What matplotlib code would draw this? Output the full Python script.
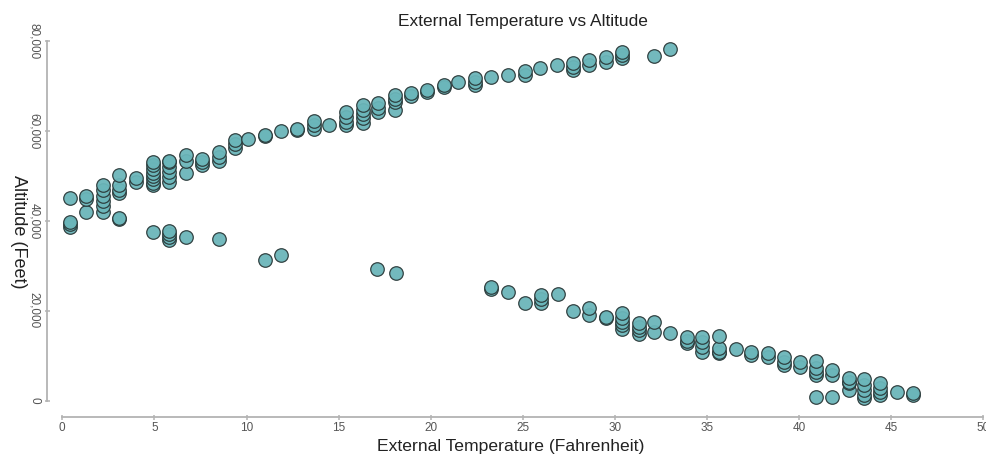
import matplotlib
matplotlib.use("Agg")
import matplotlib.pyplot as plt
from matplotlib.ticker import FuncFormatter

# upper branch (temperature F, altitude in thousands of feet)
upper_temp = [0.4,
              1.3, 1.3,
              2.2, 2.2, 2.2, 2.2, 2.2, 2.2,
              3.1, 3.1, 3.1, 3.1,
              4.0, 4.0,
              4.9, 4.9, 4.9, 4.9, 4.9, 4.9, 4.9, 4.9,
              5.8, 5.8, 5.8, 5.8, 5.8, 5.8,
              6.7, 6.7, 6.7,
              7.6, 7.6, 7.6,
              8.5, 8.5, 8.5,
              9.4, 9.4, 9.4,
              10.1,
              11.0, 11.0,
              11.9,
              12.75, 12.75,
              13.65, 13.65, 13.65,
              14.5,
              15.4, 15.4, 15.4, 15.4,
              16.3, 16.3, 16.3, 16.3, 16.3,
              17.15, 17.15, 17.15,
              18.05, 18.05, 18.05, 18.05,
              18.95, 18.95,
              19.8, 19.8,
              20.7, 20.7,
              21.5,
              22.4, 22.4, 22.4,
              23.3,
              24.2,
              25.1, 25.1,
              25.95,
              26.85,
              27.7, 27.7, 27.7,
              28.6, 28.6,
              29.5, 29.5,
              30.4, 30.4, 30.4,
              32.1,
              33.0]
upper_alt = [45.1,
             44.9, 45.4,
             42.0, 43.2, 44.3, 45.4, 46.8, 47.9,
             46.1, 46.8, 47.9, 50.2,
             48.6, 49.6,
             47.9, 48.5, 49.2, 49.9, 50.7, 51.5, 52.3, 53.1,
             48.6, 49.7, 50.8, 51.9, 53.0, 53.4,
             50.7, 53.4, 54.6,
             52.3, 53.1, 53.8,
             53.4, 54.2, 55.3,
             56.1, 57.0, 57.9,
             58.3,
             58.8, 59.0,
             60.0,
             60.2, 60.5,
             60.5, 61.2, 62.1,
             61.4,
             61.2, 62.0, 63.1, 64.3,
             61.7, 62.9, 63.8, 64.6, 65.8,
             64.2, 65.2, 66.2,
             64.7, 66.4, 67.2, 68.0,
             67.7, 68.5,
             68.6, 69.0,
             69.7, 70.1,
             70.8,
             70.1, 70.8, 71.7,
             72.0,
             72.5,
             72.5, 73.4,
             74.0,
             74.6,
             73.5, 74.2, 75.2,
             74.6, 75.8,
             75.3, 76.4,
             76.3, 76.8, 77.5,
             76.6,
             78.3]

# lower branch
lower_temp = [0.4, 0.4, 0.4,
              1.3,
              3.1, 3.1,
              4.9,
              5.8, 5.8, 5.8, 5.8,
              6.7,
              8.5,
              11.0,
              11.9,
              17.1,
              18.1,
              23.3, 23.3,
              24.2,
              25.1,
              26.0, 26.0, 26.0,
              26.9,
              27.75,
              28.6, 28.6,
              29.5, 29.5,
              30.4, 30.4, 30.4, 30.4, 30.4,
              31.3, 31.3, 31.3, 31.3,
              32.1, 32.1,
              33.0,
              33.9, 33.9, 33.9,
              34.75, 34.75, 34.75, 34.75,
              35.65, 35.65, 35.65, 35.65,
              36.55,
              37.4, 37.4,
              38.3, 38.3,
              39.2, 39.2, 39.2,
              40.05, 40.05,
              40.9, 40.9, 40.9, 40.9, 40.9,
              41.8, 41.8, 41.8,
              42.7, 42.7, 42.7, 42.7,
              43.5, 43.5, 43.5, 43.5, 43.5,
              44.4, 44.4, 44.4, 44.4,
              45.3,
              46.2, 46.2]
lower_alt = [38.6, 39.2, 39.7,
             41.9,
             40.3, 40.7,
             37.5,
             35.7, 36.3, 37.0, 37.7,
             36.4,
             35.9,
             31.2,
             32.3,
             29.2,
             28.4,
             24.9, 25.2,
             24.2,
             21.7,
             21.6, 22.5, 23.4,
             23.6,
             20.0,
             19.0, 20.5,
             18.3, 18.6,
             16.0, 16.8, 17.5, 18.3, 19.4,
             14.9, 15.7, 16.4, 17.2,
             15.3, 17.5,
             15.1,
             12.8, 13.3, 14.2,
             10.7, 12.0, 13.1, 14.2,
             10.5, 10.8, 11.6, 14.3,
             11.4,
             10.1, 10.8,
             9.7, 10.5,
             7.9, 8.6, 9.7,
             7.5, 8.6,
             0.8, 5.7, 6.4, 7.2, 8.8,
             0.8, 5.7, 6.8,
             2.3, 3.8, 4.2, 4.9,
             0.5, 1.2, 2.3, 3.4, 4.7,
             1.2, 2.0, 2.7, 3.8,
             2.0,
             1.2, 1.7]

x_ticks = [0, 5, 10, 15, 20, 25, 30, 35, 40, 45, 50]
y_ticks = [0, 20000, 40000, 60000, 80000]

plt.rcParams['font.family'] = ['Liberation Sans', 'DejaVu Sans']

W, H = 987, 458
fig = plt.figure(figsize=(W / 100, H / 100), dpi=100)
# axes box in pixels: x 62..983, y 41..400 (from top)
ax = fig.add_axes([62.3 / W, 1 - 400.5 / H, (983.3 - 62.3) / W, (400.5 - 41) / H])

# higher points drawn last so they sit on top of each stack
pts = sorted(zip(upper_temp + lower_temp, upper_alt + lower_alt), key=lambda p: p[1])
xs = [p[0] for p in pts]
ys = [p[1] * 1000 for p in pts]
ax.scatter(xs, ys, s=95, facecolor='#6bb6ba', edgecolor='#2b3a3a',
           linewidth=0.9, alpha=0.95, clip_on=False, zorder=3)

ax.set_xlim(0, 50)
ax.set_ylim(0, 80000)
ax.set_xticks(x_ticks)
ax.set_yticks(y_ticks)
ax.yaxis.set_major_formatter(FuncFormatter(lambda v, p: f"{int(v):,}"))

for side in ['top', 'right']:
    ax.spines[side].set_visible(False)
ax.spines['left'].set_position(('outward', 11))
ax.spines['bottom'].set_position(('outward', 12))
for side in ['left', 'bottom']:
    ax.spines[side].set_color('#b3b3b3')
    ax.spines[side].set_linewidth(1.3)

ax.tick_params(direction='inout', length=3.6, width=1.1, color='#b3b3b3',
               labelsize=8.5, labelcolor='#555555')
ax.tick_params(axis='x', pad=2)
ax.tick_params(axis='y', pad=3)
for lab in ax.get_yticklabels():
    lab.set_rotation(-90)
    lab.set_va('center')
    lab.set_ha('right')

ax.set_title('External Temperature vs Altitude', fontsize=12.5, color='#222222', pad=11)
fig.text(511 / W, 1 - 447 / H, 'External Temperature (Fahrenheit)', fontsize=12.6,
         color='#222222', ha='center', va='center')
fig.text(18 / W, 1 - 232 / H, 'Altitude (Feet)', fontsize=13, color='#222222',
         ha='center', va='center', rotation=-90)

fig.savefig('out.png', dpi=100)
